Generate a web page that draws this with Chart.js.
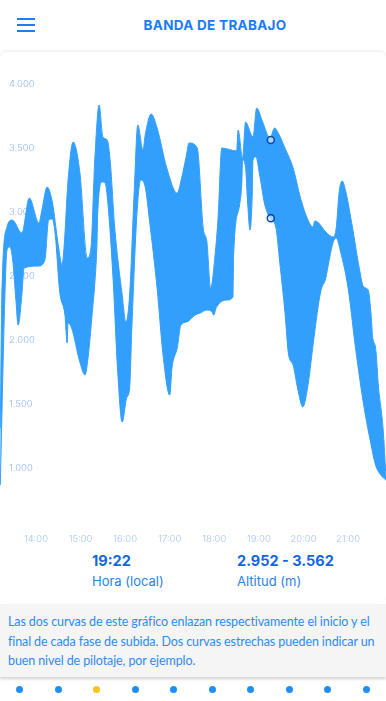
<!DOCTYPE html>
<html>
<head>
<meta charset="utf-8">
<title>Banda de trabajo</title>
<script src="https://cdn.jsdelivr.net/npm/chart.js@4.4.1/dist/chart.umd.min.js"></script>
<style>
  html, body { margin: 0; padding: 0; background: #fff; width: 386px; height: 701px; overflow: hidden; font-family: Inter, "Open Sans", sans-serif; }
  .burger { position: absolute; left: 17px; top: 18px; width: 18px; }
  .burger div { height: 2px; background: #1f7cf2; margin-bottom: 4px; }
  .title { position: absolute; left: 143px; width: 144px; top: 17px; text-align: center; font-weight: 700; font-size: 13.5px; color: #1a7cf5; letter-spacing: 0.3px; white-space: nowrap; }
  .card { position: absolute; left: 0; top: 52px; width: 386px; height: 550px; border-radius: 6px; box-shadow: 0 -1px 3px rgba(0,0,0,0.08); background: #fff; }
  #chart { position: absolute; left: 0; top: 52px; }
  .val { position: absolute; top: 552px; font-weight: 700; font-size: 14.5px; color: #1367de; }
  .lab { position: absolute; top: 573px; font-size: 13px; color: #2b7ff0; }
  .info { position: absolute; left: 0; top: 604px; width: 386px; height: 73px; background: #f5f5f5; box-shadow: 0 2px 3px rgba(0,0,0,0.18); }
  .info p { margin: 0; padding: 8px 8px 0 8px; font-family: Lato, sans-serif; font-size: 12.5px; letter-spacing: -0.1px; line-height: 19.5px; color: #2f8af5; white-space: nowrap; }
  .dot { position: absolute; top: 686px; width: 7px; height: 7px; border-radius: 50%; background: #1e8ff5; }
</style>
</head>
<body>
<div class="burger"><div></div><div></div><div></div></div>
<div class="title">BANDA DE TRABAJO</div>
<div class="card"></div>
<canvas id="chart" width="386" height="493"></canvas>
<div class="val" style="left:92px">19:22</div>
<div class="lab" style="left:92px">Hora (local)</div>
<div class="val" style="left:237px">2.952 - 3.562</div>
<div class="lab" style="left:237px">Altitud (m)</div>
<div class="info"><p>Las dos curvas de este gráfico enlazan respectivamente el inicio y el<br>final de cada fase de subida. Dos curvas estrechas pueden indicar un<br>buen nivel de pilotaje, por ejemplo.</p></div>
<div id="dots"></div>

<script>
// time in minutes since midnight, altitude in metres
var topTimes = [792, 794, 801, 808, 821, 831, 844, 848, 855, 862, 870, 875, 878, 883, 890, 899, 909, 914, 919, 925,
    930, 936, 940, 946, 956, 961, 966, 972, 977, 984, 987, 995, 1003, 1016, 1030, 1036, 1042, 1046, 1057, 1065,
    1070, 1075, 1081, 1085, 1090, 1110, 1112, 1118, 1122, 1132, 1137, 1145, 1155, 1161, 1166, 1175, 1186, 1196, 1206, 1213,
    1215, 1219, 1230, 1240, 1244, 1248, 1252, 1257, 1266, 1275, 1281, 1287, 1291, 1293, 1297, 1301, 1307, 1311];
var topAlt = [1312, 2312, 2883, 2937, 2836, 3109, 2914, 3016, 3195, 3078, 2742, 2586, 2742, 3234, 3547, 3312, 2641, 2719, 3391, 3836,
    3586, 3562, 3391, 2875, 2352, 2141, 2352, 3133, 3680, 3484, 3602, 3766, 3656, 3344, 3148, 3266, 3430, 3539, 3500, 2875,
    2766, 2406, 2664, 2953, 3500, 3477, 3641, 3422, 3703, 3586, 3812, 3703, 3578, 3656, 3617, 3500, 3344, 3109, 2937, 2883,
    2930, 2922, 2844, 2805, 2875, 3156, 3242, 3156, 2875, 2562, 2414, 2391, 2195, 2023, 1937, 1625, 1312, 922];

var lowTimes = [792, 798, 801, 805, 809, 813, 816, 821, 824, 843, 852, 857, 862, 866, 872, 879, 882, 883, 888, 899,
    906, 910, 917, 919, 922, 923, 929, 933, 937, 944, 950, 956, 962, 966, 969, 976, 981, 987, 993, 1003,
    1011, 1020, 1023, 1030, 1035, 1043, 1054, 1061, 1070, 1077, 1079, 1083, 1097, 1105, 1106, 1114, 1117, 1118, 1122, 1125,
    1128, 1131, 1132, 1136, 1141, 1148, 1155, 1163, 1168, 1175, 1180, 1186, 1192, 1199, 1206, 1214, 1223, 1230, 1234, 1240,
    1244, 1250, 1260, 1270, 1281, 1291, 1297, 1304, 1311];
var lowAlt = [867, 2312, 2703, 2727, 2609, 2312, 2117, 2352, 2562, 2578, 2625, 2937, 2945, 2820, 2375, 2195, 1977, 2133, 2094, 1828,
    1727, 1859, 2297, 2430, 2742, 2977, 3234, 3227, 3055, 2453, 1750, 1359, 1547, 1625, 2094, 3000, 3250, 3195, 2922, 2406,
    1883, 1570, 1781, 1937, 2117, 2141, 2195, 2211, 2234, 2219, 2195, 2258, 2312, 2336, 2664, 3055, 3234, 3406, 3352, 3055,
    2859, 3133, 3406, 3430, 3289, 3055, 2953, 2875, 2609, 2219, 1883, 1805, 1625, 1477, 1648, 2016, 2375, 2484, 2609, 2766,
    2797, 2687, 2406, 1937, 1492, 1180, 1023, 945, 906];

var markerTime = 1156;
var markerAlt = [3562, 2952];

var xTicks = [840, 900, 960, 1020, 1080, 1140, 1200, 1260];
var xLabels = ['14:00', '15:00', '16:00', '17:00', '18:00', '19:00', '20:00', '21:00'];
var yTicks = [1000, 1500, 2000, 2500, 3000, 3500, 4000];

var blue = '#339ffd';

function pts(xs, ys) {
    return xs.map(function (x, i) { return { x: x, y: ys[i] }; });
}

function miles(n) {
    return String(n).replace(/\B(?=(\d{3})+(?!\d))/g, '.');
}

function noPad(scale) {
    scale.paddingLeft = 0;
    scale.paddingRight = 0;
    scale.paddingTop = 0;
    scale.paddingBottom = 0;
}

var ctx = document.getElementById('chart').getContext('2d');
new Chart(ctx, {
    type: 'line',
    data: {
        datasets: [{
            data: pts(topTimes, topAlt),
            borderColor: blue,
            backgroundColor: blue,
            borderWidth: 1,
            pointRadius: 0,
            pointHoverRadius: 0,
            cubicInterpolationMode: 'monotone',
            fill: '+1'
        }, {
            data: pts(lowTimes, lowAlt),
            borderColor: blue,
            backgroundColor: blue,
            borderWidth: 1,
            pointRadius: 0,
            pointHoverRadius: 0,
            cubicInterpolationMode: 'monotone',
            fill: false
        }, {
            data: markerAlt.map(function (a) { return { x: markerTime, y: a }; }),
            order: -1,
            showLine: false,
            pointRadius: 3.5,
            pointHoverRadius: 3.5,
            pointBorderWidth: 1.6,
            pointBorderColor: '#0f4aa8',
            pointBackgroundColor: 'rgba(255,255,255,0.55)',
            fill: false
        }]
    },
    options: {
        responsive: false,
        animation: false,
        events: [],
        layout: { padding: 0, autoPadding: false },
        plugins: {
            legend: { display: false },
            tooltip: { enabled: false }
        },
        scales: {
            x: {
                type: 'linear',
                min: 791.6,
                max: 1311,
                grid: { display: false, drawTicks: false },
                border: { display: false },
                afterBuildTicks: function (scale) {
                    scale.ticks = xTicks.map(function (v) { return { value: v }; });
                },
                afterFit: function (scale) { scale.height = 20; noPad(scale); },
                ticks: {
                    padding: 8,
                    maxRotation: 0,
                    autoSkip: false,
                    color: '#a9c3ee',
                    font: { family: 'Inter', size: 9.5, weight: 300 },
                    callback: function (v, i) { return xLabels[i]; }
                }
            },
            y: {
                min: 555,
                max: 4250,
                grid: { display: false, drawTicks: false },
                border: { display: false },
                afterBuildTicks: function (scale) {
                    scale.ticks = yTicks.map(function (v) { return { value: v }; });
                },
                afterFit: function (scale) { scale.width = 0; noPad(scale); },
                ticks: {
                    mirror: true,
                    padding: 9,
                    color: '#94b6ee',
                    font: { family: 'Inter', size: 9.5, weight: 300 },
                    callback: function (v) { return miles(v); }
                }
            }
        }
    }
});

var dotX = [19, 58, 96, 135, 173, 212, 250, 289, 327, 366];
var dotsBox = document.getElementById('dots');
dotX.forEach(function (x, i) {
    var d = document.createElement('div');
    d.className = 'dot';
    d.style.left = (x - 3.5) + 'px';
    if (i === 2) d.style.background = '#f7c51e';
    dotsBox.appendChild(d);
});
</script>
</body>
</html>
